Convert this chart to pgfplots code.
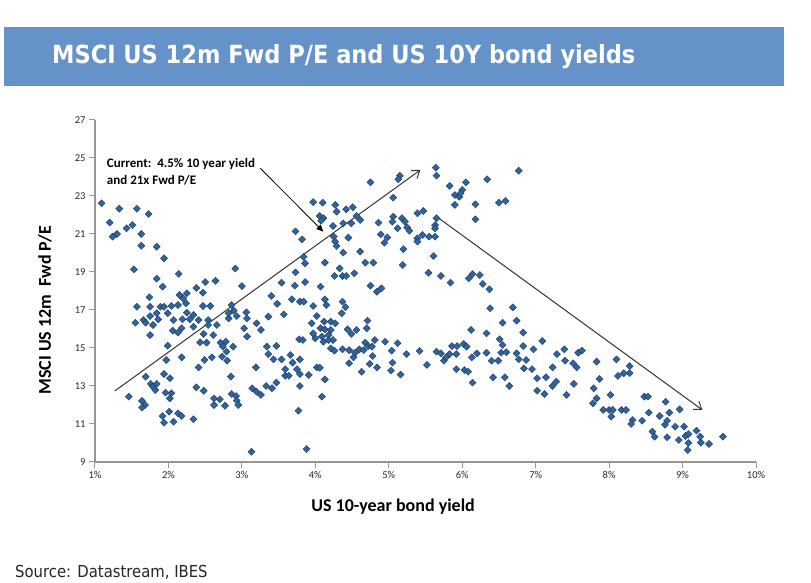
\documentclass[border=0pt]{standalone}
\usepackage{fontspec}
\setmainfont{Carlito}
\newfontfamily\titlefont{DejaVu Sans Condensed}
\usepackage{pgfplots}
\pgfplotsset{compat=1.18}
\usetikzlibrary{arrows.meta}

\definecolor{banner}{RGB}{101,146,200}
\definecolor{markfill}{RGB}{50,100,156}
\definecolor{markedge}{RGB}{28,58,98}
\definecolor{axisgray}{RGB}{150,150,150}

% Monthly observations: US 10-year yield (%) vs MSCI US 12m forward P/E
\pgfplotstableread{
x y
1.09 22.62
1.20 21.60
1.33 22.33
1.57 22.33
1.73 22.05
1.24 20.86
1.30 21.00
1.43 21.30
1.51 21.47
1.63 21.00
1.63 20.38
1.84 20.33
1.94 19.72
1.53 19.14
2.14 18.90
1.84 18.65
1.92 18.23
2.50 18.47
2.64 18.54
2.91 19.18
3.00 18.26
2.38 18.16
3.54 18.44
3.72 18.28
3.86 18.47
3.73 18.98
3.86 19.46
3.84 19.80
3.73 21.14
3.82 20.72
3.97 22.68
4.06 21.95
2.15 17.79
2.25 17.88
2.47 17.91
1.74 17.67
2.20 17.61
1.57 17.17
1.75 17.17
1.89 17.17
1.94 17.17
2.04 17.21
2.13 17.26
2.24 17.35
2.47 17.21
2.57 17.21
1.84 16.83
1.99 16.83
2.25 16.86
2.34 16.74
1.66 16.47
1.75 16.68
1.86 16.51
2.07 16.47
2.19 16.51
2.29 16.51
2.41 16.47
2.54 16.47
1.55 16.33
1.69 16.33
1.79 16.21
1.75 15.68
2.06 15.91
2.13 15.81
2.18 16.04
2.34 16.12
2.48 15.74
2.54 16.21
2.66 16.21
2.61 15.68
2.82 16.56
2.82 16.83
2.86 17.26
2.89 16.96
2.93 16.68
3.06 16.88
3.07 16.56
3.03 16.04
3.07 15.60
3.20 16.30
3.26 15.95
3.40 17.74
3.48 17.32
3.57 16.77
3.36 16.65
3.68 17.56
3.79 17.44
3.84 17.44
3.97 17.21
3.95 16.30
3.78 15.46
3.83 15.42
1.99 15.12
1.97 14.37
2.18 14.51
2.43 15.30
2.52 15.28
2.49 14.37
2.59 14.51
2.41 13.98
2.71 15.28
2.78 15.33
2.74 15.07
2.88 15.07
2.79 14.81
2.73 14.54
2.80 14.33
3.19 13.98
3.34 15.07
3.47 15.11
3.36 14.68
3.43 14.40
3.54 14.40
3.66 14.63
3.69 14.23
3.79 14.40
3.59 13.88
3.59 13.54
3.64 13.54
3.75 13.88
3.79 13.63
3.91 13.58
3.79 13.00
3.77 11.70
3.88 9.68
3.13 9.54
1.69 13.49
1.76 13.11
1.79 12.96
1.82 12.79
1.84 13.11
1.94 13.63
2.02 13.41
1.96 12.65
2.04 12.62
2.02 12.35
1.46 12.44
1.64 12.21
1.68 12.00
1.64 11.86
1.92 11.42
1.94 11.07
2.01 11.65
2.07 11.12
2.13 11.56
2.18 11.42
2.34 11.25
2.38 12.93
2.48 12.75
2.62 12.35
2.70 12.30
2.62 12.00
2.77 11.96
2.86 12.58
2.92 12.47
2.93 12.23
2.95 12.00
2.85 13.49
3.14 12.88
3.20 12.70
3.26 12.53
3.33 13.00
3.41 12.88
3.47 13.18
5.64 24.49
5.65 24.07
6.77 24.33
5.15 24.07
5.13 23.88
4.75 23.72
6.34 23.88
5.83 23.53
6.05 23.72
6.00 23.32
5.90 23.05
5.96 22.96
5.98 23.15
5.90 22.53
6.18 22.56
6.50 22.65
6.59 22.74
6.18 21.77
5.06 22.91
4.10 22.65
4.27 22.53
4.42 22.30
4.51 22.41
4.29 22.18
4.11 21.83
4.08 21.70
4.56 21.95
4.49 21.56
4.61 21.74
4.38 21.56
4.24 21.42
4.86 21.60
5.06 21.91
5.18 21.83
5.05 21.65
5.22 21.65
5.39 22.09
5.47 22.21
5.65 21.83
5.63 21.47
5.63 21.30
5.12 21.30
5.25 21.35
5.28 21.17
4.89 20.98
4.98 20.82
4.94 20.54
5.39 20.77
5.46 20.95
5.39 20.60
5.55 20.86
5.63 20.86
4.25 20.86
4.27 20.60
4.45 20.81
4.29 20.37
4.38 20.02
4.61 20.07
5.20 20.20
4.13 19.49
4.68 19.49
4.79 19.49
5.19 19.37
5.61 19.84
4.33 19.19
4.26 18.79
4.37 18.79
4.42 18.79
4.53 18.93
5.54 18.96
5.71 18.79
5.84 18.44
6.09 18.67
6.14 18.89
6.24 18.84
6.28 18.37
4.07 18.23
4.75 18.28
4.90 18.14
4.84 17.96
6.37 18.09
4.13 17.56
4.15 17.26
4.37 17.44
4.41 17.15
4.36 16.83
4.02 16.68
4.12 16.39
4.21 16.39
4.27 16.30
4.07 16.04
4.13 15.98
4.21 15.95
3.97 15.77
4.00 15.51
4.09 15.60
4.18 15.68
4.11 15.33
4.18 15.42
4.24 15.42
4.21 14.98
4.26 14.86
4.44 15.98
4.56 15.95
4.49 15.74
4.70 16.04
4.71 16.44
4.37 14.93
4.46 14.89
4.54 14.75
4.60 14.93
4.68 15.28
4.66 14.89
4.72 15.10
4.77 15.07
4.81 15.42
4.78 14.58
4.52 14.51
4.46 14.20
4.74 14.16
4.84 13.98
4.63 13.75
4.02 13.98
4.06 13.96
4.13 13.35
4.09 12.44
4.95 15.33
5.12 15.25
5.04 14.86
5.05 14.23
5.03 13.81
5.16 13.60
5.24 14.68
5.42 14.84
5.52 14.11
5.65 14.81
5.71 14.72
5.75 14.33
5.78 14.51
5.83 14.68
5.86 15.10
5.92 14.68
5.93 15.10
6.02 15.21
6.06 15.07
6.13 14.51
6.20 14.72
6.33 14.75
5.92 13.88
6.03 13.84
6.08 13.75
6.14 13.18
6.12 15.95
6.33 15.77
6.38 17.09
6.51 15.46
6.55 16.33
6.69 17.14
6.74 16.44
6.83 15.81
6.55 15.16
6.53 14.75
6.60 14.78
6.40 14.33
6.49 14.33
6.42 13.46
6.58 13.46
6.64 13.00
6.74 14.72
6.77 14.40
6.83 15.10
6.87 14.37
6.84 13.93
6.95 13.89
6.97 14.93
7.02 13.41
7.02 12.75
7.09 15.37
7.14 13.46
7.12 12.58
7.23 13.98
7.23 13.00
7.28 13.23
7.29 14.68
7.39 14.93
7.40 14.33
7.51 14.20
7.56 13.98
7.58 14.75
7.63 14.86
7.52 13.11
7.42 12.53
7.83 14.28
7.87 13.37
7.79 12.88
7.83 12.35
7.78 12.09
8.02 12.53
8.10 14.40
8.28 14.05
8.28 13.68
8.20 13.67
8.12 13.53
7.92 11.74
8.00 11.74
8.05 11.74
8.03 11.39
8.17 11.74
8.23 11.74
8.32 11.21
8.30 11.00
8.45 11.17
8.48 12.44
8.53 12.44
8.54 11.60
8.69 11.42
8.77 12.17
8.82 11.60
8.79 11.17
8.76 10.96
8.59 10.60
8.62 10.33
8.79 10.30
8.90 10.86
8.96 11.77
9.02 10.86
8.95 10.16
9.04 10.37
9.08 10.47
9.19 10.65
9.24 10.33
9.08 10.00
9.07 9.63
9.25 10.02
9.36 9.95
9.55 10.33
}\pedata

\begin{document}
\begin{tikzpicture}[x=1pt,y=1pt]
\useasboundingbox (0,0) rectangle (811,583);
% title banner
\fill[banner] (4,497) rectangle (784,556);
\node[anchor=base west, inner sep=0pt, text=white,
      font=\titlefont\bfseries\fontsize{25}{29}\selectfont] at (52,519.7)
      {MSCI US 12m Fwd P/E and US 10Y bond yields};
% source line
\node[anchor=base west, inner sep=0pt, text=black!85,
      font=\titlefont\fontsize{16.5}{19}\selectfont] at (15,5)
      {Source: Datastream, IBES};

\begin{axis}[
  at={(95pt,121pt)}, anchor=south west,
  scale only axis, width=661pt, height=342pt,
  xmin=1, xmax=10, ymin=9, ymax=27,
  axis x line*=bottom, axis y line*=left,
  axis line style={axisgray, line width=1.3pt},
  xtick={1,...,10},
  xticklabels={1\%,2\%,3\%,4\%,5\%,6\%,7\%,8\%,9\%,10\%},
  ytick={9,11,...,27},
  tick align=outside, major tick length=6pt,
  tick style={axisgray, line width=1pt},
  tick label style={font=\fontsize{10.5}{12}\selectfont, text=black!85},
  /pgf/number format/assume math mode=true,
  clip=false,
  xlabel={US 10-year bond yield},
  xlabel style={at={(axis description cs:0.451,-0.1316)}, anchor=center,
                font=\bfseries\fontsize{18}{21}\selectfont},
  ylabel={MSCI US 12m~~Fwd P/E},
  ylabel style={at={(axis description cs:-0.0756,0.444)}, anchor=center,
                font=\bfseries\fontsize{18}{21}\selectfont},
]
\addplot[only marks, mark=square*, mark size=2.5pt,
         mark options={rotate=45, fill=markfill, draw=markedge, line width=0.4pt}]
  table[x=x, y=y] {\pedata};

% trend arrows
\draw[black!80, line width=1pt, -{Straight Barb[length=7pt,width=10pt]}]
  (axis cs:1.27,12.74) -- (axis cs:5.43,24.37);
\draw[black!80, line width=1pt, -{Straight Barb[length=7pt,width=10pt]}]
  (axis cs:5.67,21.86) -- (axis cs:9.27,11.74);
% annotation
\node[anchor=north west, align=left, inner sep=0pt,
      font=\bfseries\fontsize{13}{17}\selectfont]
  at (axis cs:1.16,25.0) {Current:~~4.5\% 10 year yield\\and 21x Fwd P/E};
\draw[black, line width=0.8pt, -{Triangle[length=7pt,width=6pt]}]
  (axis cs:3.25,24.46) -- (axis cs:4.11,21.12);
\end{axis}
\end{tikzpicture}
\end{document}
